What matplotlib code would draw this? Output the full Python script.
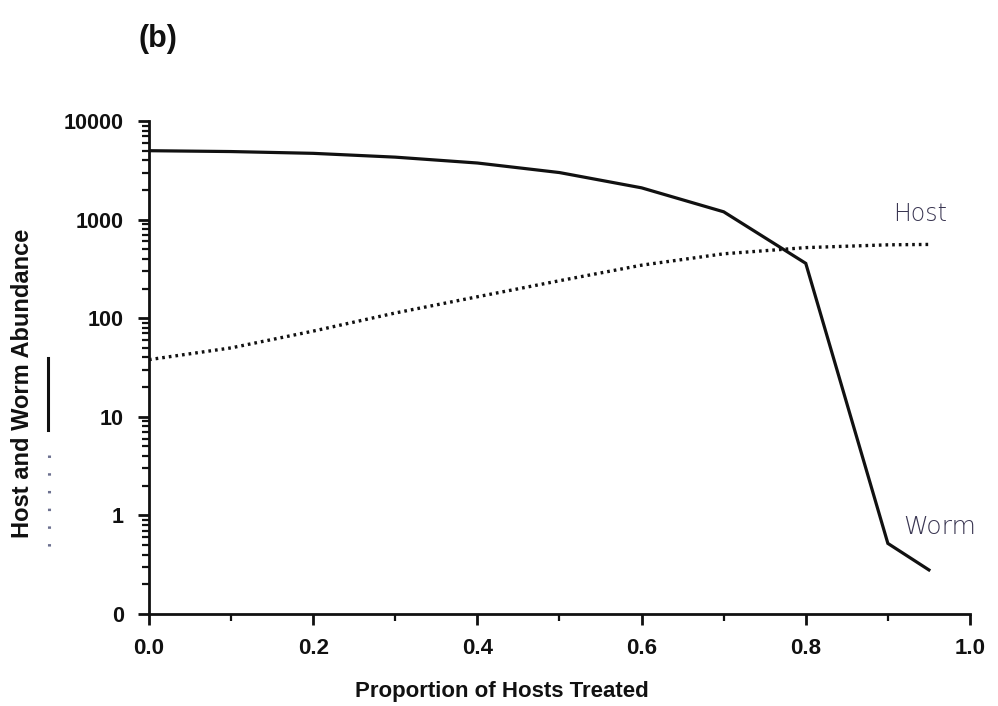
import numpy as np
import matplotlib.pyplot as plt
from matplotlib.lines import Line2D
from matplotlib.ticker import LogLocator, MultipleLocator, NullFormatter

plt.rcParams['font.family'] = ['Liberation Sans', 'DejaVu Sans']

## values
treated = [0.0, 0.1, 0.2, 0.3, 0.4, 0.5, 0.6, 0.7, 0.8, 0.9, 0.95]
worm = [5000, 4900, 4700, 4300, 3750, 3000, 2100, 1200, 360, 0.52, 0.28]
host = [38, 50, 74, 113, 165, 240, 345, 450, 520, 555, 560]

yticks = [0.1, 1, 10, 100, 1000, 10000]
ylabels = ['0', '1', '10', '100', '1000', '10000']
xticks = [0.0, 0.2, 0.4, 0.6, 0.8, 1.0]
xlabels = ['0.0', '0.2', '0.4', '0.6', '0.8', '1.0']

ink = '#111111'
pen = '#3a3652'   # handwritten notes

fig = plt.figure(figsize=(9.98, 7.06), dpi=100)
ax = fig.add_axes([0.1493, 0.1303, 0.8226, 0.6983])

ax.plot(treated, worm, color=ink, lw=2.3, solid_joinstyle='miter')
ax.plot(treated, host, color=ink, lw=2.4, linestyle=(0, (0.8, 1.2)))

ax.set_yscale('log')
ax.set_xlim(0, 1.0)
ax.set_ylim(0.1, 10000)
ax.set_yticks(yticks)
ax.set_yticklabels(ylabels)
ax.yaxis.set_minor_locator(LogLocator(base=10, subs=np.arange(2, 10)))
ax.yaxis.set_minor_formatter(NullFormatter())
ax.set_xticks(xticks)
ax.set_xticklabels(xlabels)
ax.xaxis.set_minor_locator(MultipleLocator(0.1))

for s in ['top', 'right']:
    ax.spines[s].set_visible(False)
for s in ['left', 'bottom']:
    ax.spines[s].set_linewidth(2)
    ax.spines[s].set_color(ink)

ax.tick_params(which='major', length=8, width=2, direction='out', color=ink)
ax.tick_params(which='minor', length=5, width=1.6, direction='out', color=ink)
ax.tick_params(axis='y', which='major', pad=10)
ax.tick_params(axis='x', which='major', pad=9)
for lab in ax.get_yticklabels():
    lab.set_fontweight('bold')
    lab.set_fontsize(15.5)
    lab.set_color(ink)
for lab in ax.get_xticklabels():
    lab.set_fontweight('bold')
    lab.set_fontsize(16)
    lab.set_color(ink)

ax.set_xlabel('Proportion of Hosts Treated', fontsize=16, fontweight='bold',
              color=ink)
ax.xaxis.set_label_coords(0.43, -0.135)

# y label with the little line key beside it
fig.text(0.023, 0.457, 'Host and Worm Abundance', rotation=90, fontsize=17,
         fontweight='bold', color=ink, ha='center', va='center')
fig.add_artist(Line2D([0.048, 0.048], [1 - 358 / 706, 1 - 430 / 706],
                      color=ink, lw=2.2))
fig.add_artist(Line2D([0.049, 0.049], [1 - 455 / 706, 1 - 548 / 706],
                      color='#6d7190', lw=2.2, linestyle=(0, (0.8, 5))))

fig.text(0.158, 0.945, '(b)', fontsize=22, fontweight='bold', color=ink,
         ha='center', va='center')

# handwritten notes
ax.text(0.939, 1150, 'Host', fontsize=17, color=pen, ha='center', va='center',
        family='DejaVu Sans', fontweight='light')
ax.text(0.963, 0.77, 'Worm', fontsize=18, color=pen, ha='center', va='center',
        family='DejaVu Sans', fontweight='light')

fig.savefig('out.png', dpi=100)
